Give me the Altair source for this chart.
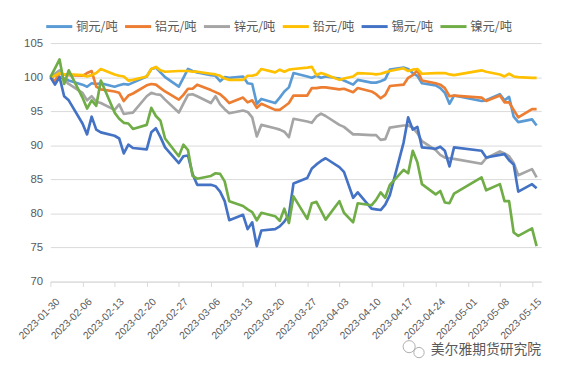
import altair as alt
import pandas as pd

dates = [
    "2023-01-30", "2023-01-31", "2023-02-01", "2023-02-02", "2023-02-03",
    "2023-02-06", "2023-02-07", "2023-02-08", "2023-02-09", "2023-02-10",
    "2023-02-13", "2023-02-14", "2023-02-15", "2023-02-16", "2023-02-17",
    "2023-02-20", "2023-02-21", "2023-02-22", "2023-02-23", "2023-02-24",
    "2023-02-27", "2023-02-28", "2023-03-01", "2023-03-02", "2023-03-03",
    "2023-03-06", "2023-03-07", "2023-03-08", "2023-03-09", "2023-03-10",
    "2023-03-13", "2023-03-14", "2023-03-15", "2023-03-16", "2023-03-17",
    "2023-03-20", "2023-03-21", "2023-03-22", "2023-03-23", "2023-03-24",
    "2023-03-27", "2023-03-28", "2023-03-29", "2023-03-30", "2023-03-31",
    "2023-04-03", "2023-04-04", "2023-04-06", "2023-04-07",
    "2023-04-10", "2023-04-11", "2023-04-12", "2023-04-13", "2023-04-14",
    "2023-04-17", "2023-04-18", "2023-04-19", "2023-04-20", "2023-04-21",
    "2023-04-24", "2023-04-25", "2023-04-26", "2023-04-27", "2023-04-28",
    "2023-05-04", "2023-05-05",
    "2023-05-08", "2023-05-09", "2023-05-10", "2023-05-11", "2023-05-12",
    "2023-05-15", "2023-05-16",
]

copper = [
    100, 100.2, 100.0, 99.8, 99.5,
    98.9, 98.6, 99.1, 99.0, 99.1,
    98.6, 98.8, 99.0, 98.9, 99.2,
    100.1, 101.2, 101.4, 100.7, 100.0,
    98.6, 99.9, 101.2, 100.9, 100.7,
    100.3, 100.2, 99.4, 100.0, 99.9,
    100.1, 99.1, 99.0, 96.1, 96.8,
    96.2, 97.0, 97.9, 98.5, 100.6,
    100.1, 99.9, 100.2, 99.9, 100.1,
    99.8, 99.5, 98.9, 99.6,
    99.2, 99.2, 99.4, 99.7, 101.1,
    101.4, 101.2, 100.6, 100.2, 99.1,
    98.8, 98.4, 97.7, 96.1, 97.3,
    96.5, 96.6,
    97.5, 96.6, 97.1, 94.2, 93.4,
    93.8, 92.9,
]

aluminium = [
    100, 99.4, 100.6, 100.4, 100.3,
    100.2, 100.6, 100.9, 98.6, 98.2,
    97.9, 97.7, 96.5, 97.3, 97.6,
    98.8, 99.0, 98.9, 98.4, 97.9,
    96.7, 97.4, 98.3, 98.3, 98.9,
    98.1, 97.8, 97.5, 96.9, 96.2,
    97.0, 96.3, 96.6, 95.5, 96.1,
    95.2, 95.2, 95.7, 96.2, 97.3,
    97.3, 98.4, 98.4, 98.5, 98.5,
    98.2, 98.3, 97.8, 98.4,
    97.9, 97.5, 96.9, 97.4, 98.7,
    98.9, 99.9, 100.3, 101.0, 99.5,
    99.1, 98.9, 98.4, 97.2, 97.3,
    97.0, 96.5,
    97.3, 96.3, 96.3, 95.2, 94.1,
    95.3, 95.3,
]

zinc = [
    100, 100.5, 101.0, 99.6, 99.0,
    97.7, 96.6, 97.2, 96.4, 96.2,
    95.2, 96.0, 94.6, 94.7, 94.8,
    97.2, 97.7, 97.5, 97.4, 96.7,
    94.8, 96.1, 97.4, 97.5, 97.2,
    96.2, 97.2, 96.0, 95.3, 94.7,
    95.1, 94.9, 94.1, 91.3, 93.0,
    92.5, 92.3, 92.0, 91.2, 93.9,
    93.5, 93.3, 94.2, 94.65, 94.3,
    93.0, 92.7, 91.6, 91.6,
    91.5, 91.5, 90.8, 90.9, 92.6,
    92.9, 92.9, 92.6, 91.8, 90.6,
    89.3, 88.6, 88.2, 88.1, 88.0,
    87.3, 88.1,
    89.1, 88.8, 88.4, 87.4, 85.6,
    86.5, 85.3,
]

lead = [
    100, 100.2, 100.6, 100.4, 100.4,
    100.3, 100.1, 100.3, 100.6, 101.2,
    100.4, 100.2, 100.1, 99.5, 99.6,
    100.1, 101.2, 101.5, 101.0, 100.8,
    100.9, 100.9, 100.9, 100.8, 100.8,
    100.5, 100.4, 100.2, 99.8, 99.6,
    99.6, 100.2, 100.2, 100.4, 101.2,
    100.7, 101.1, 100.8, 101.1, 101.2,
    101.4, 101.5, 100.3, 100.6, 100.4,
    99.6, 99.8, 100.1, 100.6,
    100.5, 100.4, 100.5, 100.7, 100.9,
    101.3, 100.9, 101.1, 101.2, 100.5,
    100.6, 100.6, 100.6, 100.4, 100.3,
    101.0, 100.8,
    100.4, 100.1, 100.5, 100.1, 100.0,
    99.9, 99.9,
]

tin = [
    100, 98.9, 100.0, 97.2, 96.6,
    93.2, 91.6, 94.2, 92.3, 91.9,
    91.4, 91.0, 88.8, 90.1, 89.6,
    89.4, 91.9, 92.5, 91.2, 89.7,
    87.4, 88.4, 88.5, 85.8, 84.2,
    84.2, 84.0, 83.2, 81.8, 79.0,
    79.8, 77.7, 78.7, 75.2, 77.5,
    77.7, 78.1, 78.8, 79.8, 84.4,
    85.2, 86.6, 87.2, 87.7, 88.1,
    86.8, 86.1, 82.3, 83.1,
    80.7, 80.6, 80.5, 81.3, 82.7,
    90.4, 94.1, 92.3, 92.7, 89.7,
    89.5, 89.8, 89.2, 86.9, 89.7,
    89.2, 88.2,
    88.6, 88.7, 87.8, 87.2, 83.2,
    84.3, 83.7,
]

nickel = [
    100, 101.3, 102.6, 99.0, 101.0,
    97.0, 95.4, 96.6, 95.8, 99.5,
    94.8, 93.9, 93.3, 93.2, 92.4,
    93.0, 95.5, 94.3, 93.6, 91.0,
    88.4, 90.1, 89.3, 85.5, 85.1,
    85.5, 85.9, 85.8, 84.7, 81.8,
    81.1, 80.6, 80.2, 79.0, 80.1,
    79.6, 78.9, 80.7, 78.6, 82.5,
    79.2, 81.5, 81.7, 80.4, 79.1,
    81.8, 80.1, 78.7, 81.5,
    81.2, 82.0, 83.1, 82.3, 84.2,
    86.4, 85.9, 89.2, 87.5, 84.3,
    82.8, 83.3, 81.6, 81.5, 82.9,
    85.3, 83.4,
    84.3, 81.8, 81.8, 77.2, 76.7,
    77.8, 75.2,
]

names = ["铜元/吨", "铝元/吨", "锌元/吨", "铅元/吨", "锡元/吨", "镍元/吨"]
colors = ["#5B9BD5", "#ED7D31", "#A5A5A5", "#FFC000", "#4472C4", "#70AD47"]
y_ticks = [70, 75, 80, 85, 90, 95, 100, 105]
x_ticks = [
    "2023-01-30", "2023-02-06", "2023-02-13", "2023-02-20", "2023-02-27",
    "2023-03-06", "2023-03-13", "2023-03-20", "2023-03-27", "2023-04-03",
    "2023-04-10", "2023-04-17", "2023-04-24", "2023-05-01", "2023-05-08",
    "2023-05-15",
]
x_range = ["2023-01-30", "2023-05-17"]
watermark = "美尔雅期货研究院"

series = [copper, aluminium, zinc, lead, tin, nickel]
rows = []
for name, vals in zip(names, series):
    for d, v in zip(dates, vals):
        rows.append({"date": d, "series": name, "value": v})
df = pd.DataFrame(rows)


def dt(s):
    y, m, d = (int(p) for p in s.split("-"))
    return alt.DateTime(year=y, month=m, date=d, utc=True)


lines = alt.Chart(df).mark_line(strokeWidth=2.7, strokeJoin="round").encode(
    x=alt.X(
        "date:T",
        scale=alt.Scale(type="utc", domain=[dt(s) for s in x_range], nice=False),
        axis=alt.Axis(
            values=[dt(s) for s in x_ticks],
            format="%Y-%m-%d",
            title=None,
            grid=False,
            labelAngle=-45,
            labelAlign="right",
            labelBaseline="top",
            labelOffset=4,
            labelPadding=10,
            labelFontSize=10.5,
            labelFont="Liberation Sans",
            labelColor="#595959",
            domainColor="#D9D9D9",
            tickColor="#D9D9D9",
            tickSize=5,
            labelOverlap=False,
            labelFlush=False,
        ),
    ),
    y=alt.Y(
        "value:Q",
        scale=alt.Scale(domain=[70, 105], nice=False, zero=False),
        axis=alt.Axis(
            values=y_ticks,
            title=None,
            domain=False,
            ticks=False,
            grid=True,
            gridColor="#D9D9D9",
            labelFontSize=11.5,
            labelFont="Liberation Sans",
            labelColor="#595959",
            labelPadding=8,
        ),
    ),
    color=alt.Color(
        "series:N",
        scale=alt.Scale(domain=names, range=colors),
        legend=alt.Legend(
            title=None,
            orient="none",
            legendX=-6,
            legendY=-32,
            direction="horizontal",
            columns=6,
            symbolType="stroke",
            symbolSize=700,
            symbolStrokeWidth=3,
            labelFontSize=12.5,
            labelFont="Noto Sans CJK SC",
            labelColor="#595959",
            labelOffset=2,
            columnPadding=0,
        ),
    ),
)

wm_text = alt.Chart(pd.DataFrame({"t": [watermark]})).mark_text(
    fontSize=14, font="Noto Sans CJK SC", color="#595959", align="left", baseline="middle"
).encode(text="t:N", x=alt.value(386), y=alt.value(311))

icon_df = pd.DataFrame({"k": ["a", "b"]})
icon_a = alt.Chart(icon_df.head(1)).mark_point(
    shape="circle", filled=False, color="#8C8C8C", size=150, strokeWidth=1
).encode(x=alt.value(364), y=alt.value(308))
icon_b = alt.Chart(icon_df.tail(1)).mark_point(
    shape="circle", filled=False, color="#8C8C8C", size=110, strokeWidth=1
).encode(x=alt.value(374), y=alt.value(314))

chart = alt.layer(lines, wm_text, icon_a, icon_b).properties(
    width=498,
    height=242,
    padding={"left": 43, "top": 33, "right": 14, "bottom": 80},
    autosize=alt.AutoSizeParams(type="none"),
    background="white",
).configure_view(stroke=None)

chart.save("out.html", embed_options={"renderer": "svg", "actions": False})
